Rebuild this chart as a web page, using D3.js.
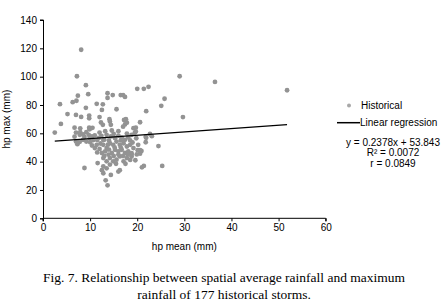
<!DOCTYPE html>
<html><head><meta charset="utf-8">
<script src="https://cdn.jsdelivr.net/npm/d3@7"></script>
<style>body{margin:0;background:#fff}svg{display:block}</style>
</head><body>
<svg id="c" width="447" height="306"></svg>
<script>
// hp mean (mm)
const hpMean = [3.6,8.1,7.2,9.1,9.6,7.4,6.3,7.1,9.1,11.4,12.7,12.5,13.7,13.7,14.8,15.6,16.5,17.0,17.4,20,21.4,22.4,25.8,25.1,21.9,29,5.2,7.0,8.1,9.8,9.8,12,14.1,17.6,36.5,51.8,29.7,2.5,3.8,14.4,17.4,17.8,19.7,20.6,21.8,21.8,23.1,24.5,25.3,21.4,21,20.9,19.6,18.8,7.3,6.7,6.7,7.9,9.8,9.9,8.8,11.6,12.7,12.8,13.3,13.7,14.4,16.0,16.3,13.5,12.5,14.2,12.3,10,10.5,17.2,17.0,19.2,19.7,22.7,21.9,18.5,18.8,20.6,19.9,20.1,20.6,
7.0,7.9,7.8,8.5,8.8,9.2,9.7,9.9,10.4,7.0,7.8,8.5,9.2,10.0,10.4,11.0,11.4,10.7,11.5,11.9,12.4,12.8,12.2,
13.5,14.4,15.3,16.0,16.7,17.4,18.1,18.8,19.5,12.8,13.5,14.2,14.9,15.6,16.3,17.1,17.8,18.5,19.2,20.2,12.5,13.2,13.9,14.6,15.3,16.0,16.7,17.4,18.1,18.8,12.8,13.5,14.2,14.9,15.6,16.3,17.1,17.8,12.8,14.2,
13.0,14.0,15.0,16.5,17.8,18.5,19.8,11.0,12.0,13.2,14.6,16.0,15.0,16.0,17.0,18.0,13.0,14.0,16.5,19.0,12.0,11.5,15.5,13.8,15.2,17.5];
// hp max (mm)
const hpMax = [80.6,119,100.3,94,87.6,86.6,82,83,78,80.8,80.5,76.5,88.3,85,87,77,87,87,85.7,91.4,91.4,92.8,84.4,79.4,75.6,100.3,73.6,73,71.6,72.5,70.6,71.5,70,70,96.3,90.4,71.5,60.5,66.6,66,66.3,67.5,64,67.8,57.6,53.7,58,51,37,37,36,47.5,41,46,52.3,57.6,64,63.5,64,62.8,35.5,39,66,31.8,26.8,23.3,30.6,33,34,35.3,34,68.3,67.7,63.5,63.9,69.4,64.7,63.6,61.2,59.5,56.8,41.2,43.6,45.6,45.1,48.1,48.1,
60.5,60.8,58.9,59.2,57.4,60.8,58.9,56.6,57.8,54.2,54,55.4,54.2,53.7,51.4,49.6,51.9,55.2,55.2,56.8,58.2,55.2,52.8,
58.9,57.8,56.6,58.4,57,55.4,57,58.9,60.5,51.9,49.6,53,51.9,54.2,51.9,53,50.7,51.9,49.6,51.9,46.1,47.3,44.9,46.1,48.4,47.3,48.4,46.1,47.3,44.9,42.5,40.2,42.5,40.2,41.4,43.7,40.2,42.5,36.7,37.9,
55.5,55.0,59.5,55.0,59.8,55.0,56.5,58.5,60.5,61.5,62.0,61.5,44.0,45.0,44.0,45.0,44.0,48.5,50.0,53.5,49.0,46.5,38.5,52.0,50.0,38.5];
const xTicks = [0,10,20,30,40,50,60];
const yTicks = [0,20,40,60,80,100,120,140];
const slope = 0.2378, intercept = 53.843;
const eqLines = ["y = 0.2378x + 53.843", "R² = 0.0072", "r = 0.0849"];
const legendLabels = ["Historical", "Linear regression"];
const caption = ["Fig. 7. Relationship between spatial average rainfall and maximum", "rainfall of 177 historical storms."];

const svg = d3.select("#c");
const x = d3.scaleLinear().domain([0,60]).range([43,325.7]);
const y = d3.scaleLinear().domain([0,140]).range([218.3,20]);
const font = "'Liberation Sans', Arial, sans-serif";
const dotColor = "#939393";

const gx = svg.append("g").attr("transform", `translate(0,${y(0)})`)
  .call(d3.axisBottom(x).tickValues(xTicks).tickSize(3).tickPadding(3));
const gy = svg.append("g").attr("transform", `translate(${x(0)},0)`)
  .call(d3.axisLeft(y).tickValues(yTicks).tickSize(3).tickPadding(3));
[gx,gy].forEach(g=>{
  g.select(".domain").attr("stroke","#000");
  g.selectAll(".tick line").attr("stroke","#000");
  g.selectAll("text").attr("font-family",font).attr("font-size",10).attr("fill","#000");
});
gy.select(".domain").attr("d", `M-3,${y(0)+0.5}H0.5V${y(140)}H-3`);
gx.select(".domain").attr("d", `M${x(0)},3V0H${x(60)}V3`);

const pts = hpMean.map((v,i)=>[v,hpMax[i]]);
svg.append("g").selectAll("circle").data(pts).join("circle")
  .attr("cx",d=>x(d[0])).attr("cy",d=>y(d[1])).attr("r",2.4).attr("fill",dotColor);

const xr = d3.extent(hpMean);
svg.append("line").attr("x1",x(xr[0])).attr("y1",y(slope*xr[0]+intercept))
  .attr("x2",x(xr[1])).attr("y2",y(slope*xr[1]+intercept))
  .attr("stroke","#000").attr("stroke-width",1.2);

// axis titles
svg.append("text").attr("x",x(30)).attr("y",250).attr("text-anchor","middle")
  .attr("font-family",font).attr("font-size",10).text("hp mean (mm)");
svg.append("text").attr("transform",`translate(10,${(y(0)+y(140))/2}) rotate(-90)`)
  .attr("text-anchor","middle").attr("font-family",font).attr("font-size",10).text("hp max (mm)");

// legend
svg.append("circle").attr("cx",349).attr("cy",105.5).attr("r",2).attr("fill","#a8a8a8");
svg.append("text").attr("x",361).attr("y",109.3).attr("font-family",font).attr("font-size",10).text(legendLabels[0]);
svg.append("line").attr("x1",337).attr("x2",360).attr("y1",122.7).attr("y2",122.7).attr("stroke","#000").attr("stroke-width",1.5);
svg.append("text").attr("x",360).attr("y",126).attr("font-family",font).attr("font-size",10).text(legendLabels[1]);
svg.append("g").selectAll("text").data(eqLines).join("text")
  .attr("x",393).attr("y",(d,i)=>145.5+i*10.5).attr("text-anchor","middle")
  .attr("font-family",font).attr("font-size",10).text(d=>d);

svg.append("g").selectAll("text").data(caption).join("text")
  .attr("x",224).attr("y",(d,i)=>281.5+i*17.5).attr("text-anchor","middle")
  .attr("font-family","'Liberation Serif','Times New Roman',serif").attr("font-size",13.5).text(d=>d);
</script>
</body></html>
